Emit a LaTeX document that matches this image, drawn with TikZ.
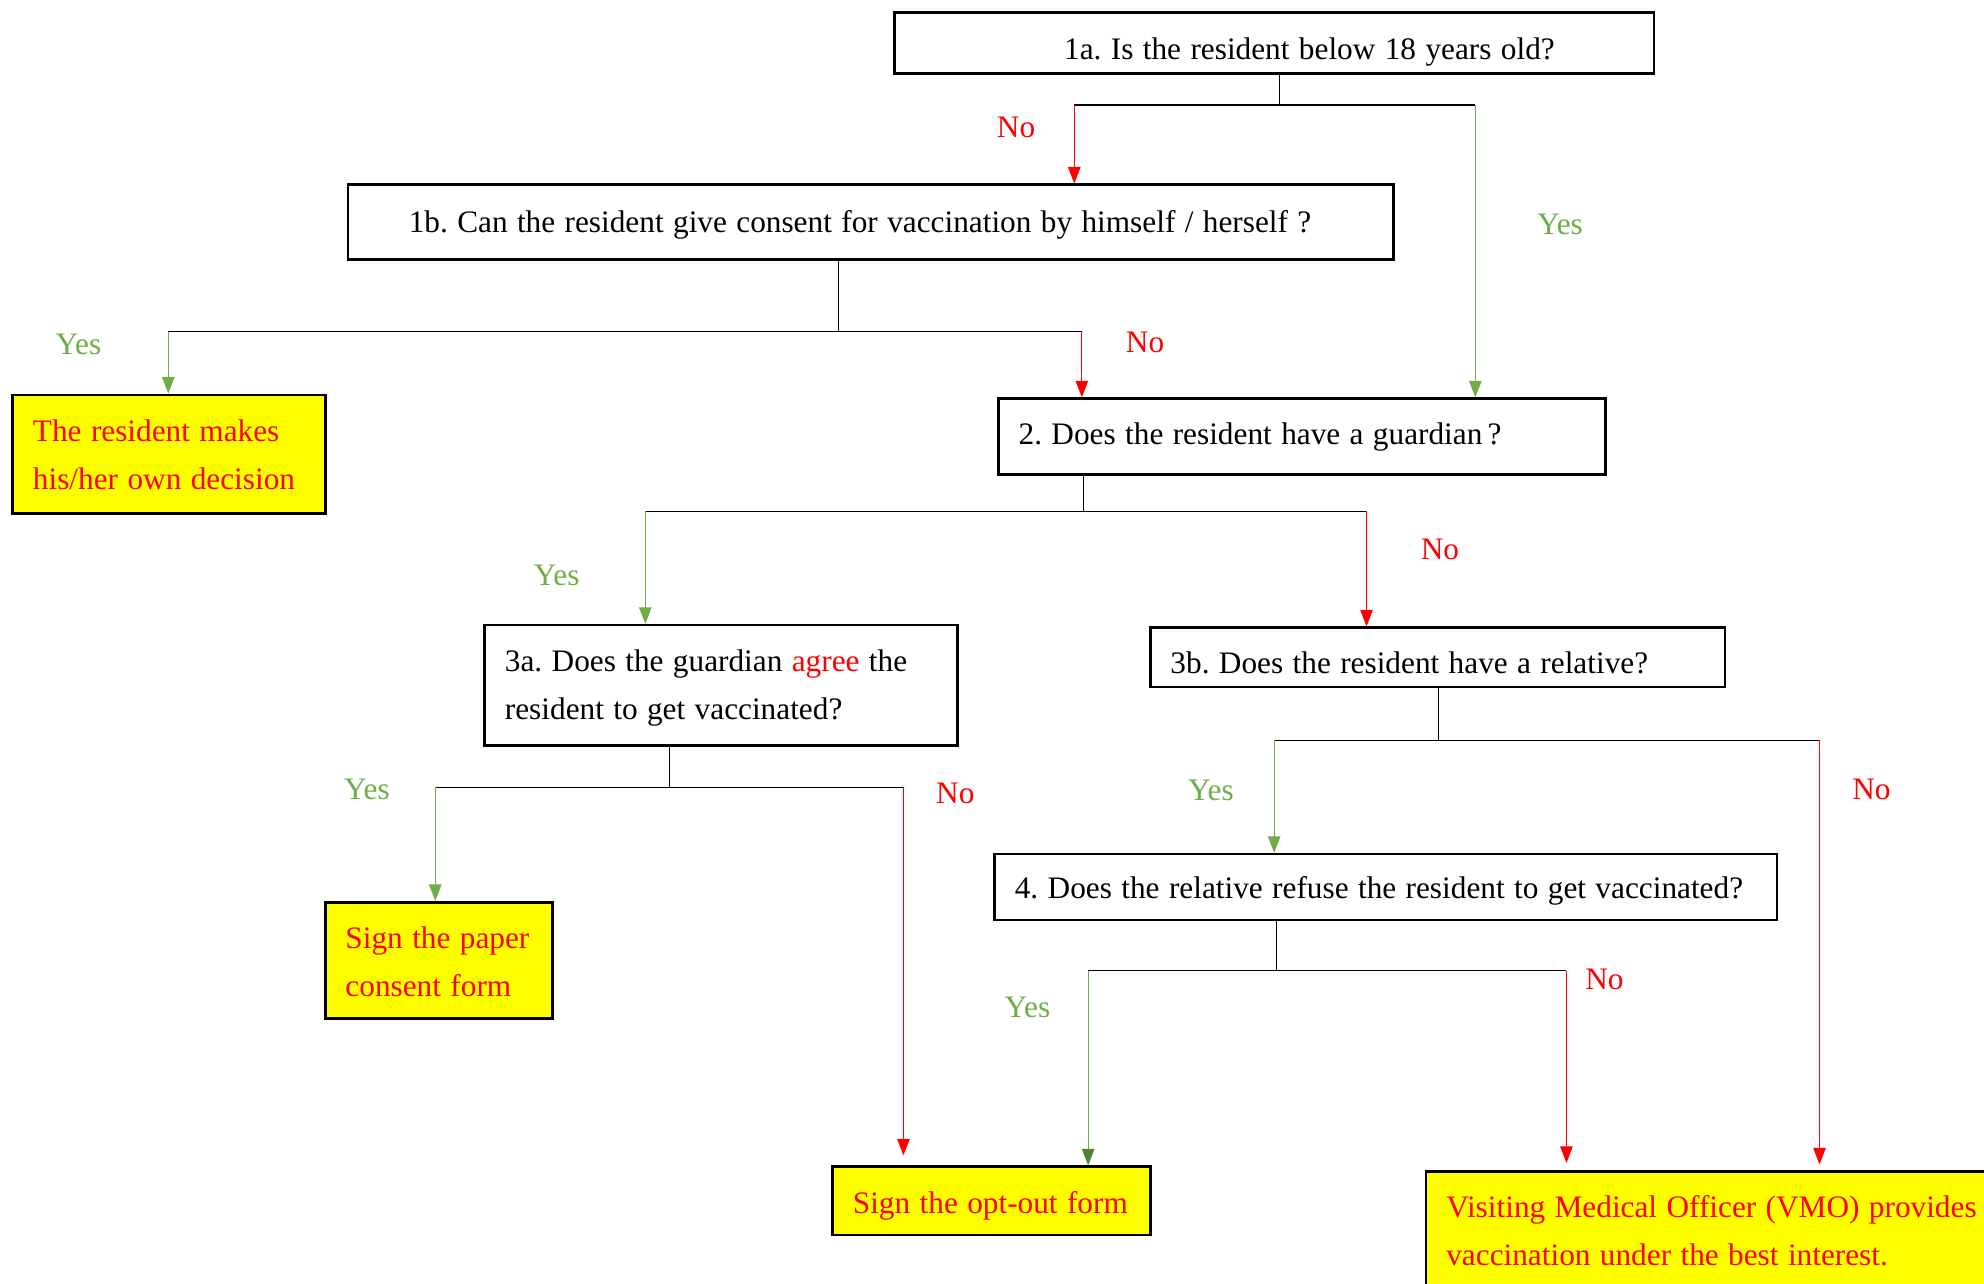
\documentclass[tikz,border=0pt]{standalone}
\usepackage{fontspec}
\setmainfont{Liberation Serif}
\usetikzlibrary{arrows.meta}
\definecolor{yesgreen}{HTML}{70AD47}
\definecolor{yesdark}{HTML}{548235}
\definecolor{endyellow}{HTML}{FFFF00}
% one unbreakable line of box text, baseline set below the box centre
\newcommand{\boxline}[2][0]{\raisebox{-#1cm}[0pt][0pt]{\spaceskip=0.3em\relax #2}}
\tikzset{
  qbox/.style={draw, line width=1.5pt, rectangle, inner xsep=0.405cm, inner ysep=0pt, align=left, anchor=north west},
  endbox/.style={qbox, fill=endyellow, text=red},
  stem/.style={draw=black, line width=0.6pt},
  noarrow/.style={draw=red, line width=0.6pt, -{Triangle[length=0.33cm,width=0.25cm]}},
  yesarrow/.style={draw=yesgreen, line width=0.6pt, -{Triangle[length=0.33cm,width=0.25cm]}},
  nolabel/.style={text=red},
  yeslabel/.style={text=yesgreen}
}

\begin{document}
\frenchspacing
\begin{tikzpicture}[x=0.0253cm, y=-0.0253cm, font=\fontsize{17.8}{27.3}\selectfont]
\useasboundingbox (0,0) rectangle (1568,1014);
% questions
\node[qbox, text width=14.37cm, minimum height=1.214cm] (q1a) at (706,9) {\hspace*{2.985cm}\boxline[0.33]{1a. Is the resident below 18 years old?}};
\node[qbox, text width=20.09cm, minimum height=1.493cm] (q1b) at (274,145) {\hspace*{0.81cm}\boxline[0.2]{1b. Can the resident give consent for vaccination by himself / herself ?}};
\node[qbox, text width=11.33cm, minimum height=1.518cm] (q2) at (788,314) {\boxline[0.15]{2. Does the resident have a guardian\,?}};
\node[qbox, text width=8.65cm, minimum height=2.404cm] (q3a) at (382,493) {\boxline[0.2]{3a. Does the guardian {\color{red}agree} the}\\\boxline[0.2]{resident to get vaccinated?}};
\node[qbox, text width=10.68cm, minimum height=1.189cm] (q3b) at (908,495) {\boxline[0.33]{3b. Does the resident have a relative?}};
\node[qbox, text width=14.83cm, minimum height=1.316cm] (q4) at (785,674) {\boxline[0.23]{4. Does the relative refuse the resident to get vaccinated?}};
% outcomes
\node[endbox, text width=5.44cm, minimum height=2.378cm] (own) at (9,311) {\boxline[0.23]{The resident makes}\\\boxline[0.23]{his/her own decision}};
\node[endbox, text width=3.74cm, minimum height=2.328cm] (paper) at (256,712) {\boxline[0.25]{Sign the paper}\\\boxline[0.25]{consent form}};
\node[endbox, text width=5.54cm, minimum height=1.366cm] (optout) at (657,921) {\boxline[0.25]{Sign the opt-out form}};
\node[endbox, text width=11.33cm, minimum height=2.328cm] (vmo) at (1126,925) {\boxline[0.23]{Visiting Medical Officer (VMO) provides}\\\boxline[0.23]{vaccination under the best interest.}};
% branch points
\coordinate (j1a) at (1011,83);  \coordinate (n1a) at (849,83);   \coordinate (y1a) at (1166,83);
\coordinate (j1b) at (663,262);  \coordinate (y1b) at (133,262);  \coordinate (n1b) at (855,262);
\coordinate (j2) at (856,404);   \coordinate (y2) at (510,404);   \coordinate (n2) at (1080,404);
\coordinate (j3a) at (529,622);  \coordinate (y3a) at (344,622);  \coordinate (n3a) at (714,622);
\coordinate (j3b) at (1137,585); \coordinate (y3b) at (1007,585); \coordinate (n3b) at (1438,585);
\coordinate (j4) at (1009,767);  \coordinate (y4) at (860,767);   \coordinate (n4) at (1238,767);
% stems
\draw[stem] (q1a.south -| j1a) -- (j1a) (n1a) -- (y1a);
\draw[stem] (q1b.south -| j1b) -- (j1b) (y1b) -- (n1b);
\draw[stem] (q2.south -| j2) -- (j2) (y2) -- (n2);
\draw[stem] (q3a.south -| j3a) -- (j3a) (y3a) -- (n3a);
\draw[stem] (q3b.south -| j3b) -- (j3b) (y3b) -- (n3b);
\draw[stem] (q4.south -| j4) -- (j4) (y4) -- (n4);
% arrows
\draw[noarrow] (n1a) -- (n1a |- q1b.north);
\draw[yesarrow] (y1a) -- (y1a |- q2.north);
\draw[yesarrow] (y1b) -- (y1b |- own.north);
\draw[noarrow] (n1b) -- (n1b |- q2.north);
\draw[yesarrow] (y2) -- (y2 |- q3a.north);
\draw[noarrow] (n2) -- (n2 |- q3b.north);
\draw[yesarrow] (y3a) -- (y3a |- paper.north);
\draw[noarrow, shorten >=0.2cm] (n3a) -- (n3a |- optout.north);
\draw[yesarrow] (y3b) -- (y3b |- q4.north);
\draw[noarrow, shorten >=0.12cm] (n3b) -- (n3b |- vmo.north);
\draw[yesarrow, -{Triangle[length=0.33cm,width=0.25cm,color=yesdark]}] (y4) -- (y4 |- optout.north);
\draw[noarrow, shorten >=0.15cm] (n4) -- (n4 |- vmo.north);
% labels
\node[nolabel] (no1a) at (803,101) {No};
\node[yeslabel] (yes1a) at (1233,177) {Yes};
\node[yeslabel] (yes1b) at (62,272) {Yes};
\node[nolabel] (no1b) at (905,271) {No};
\node[yeslabel] (yes2) at (440,455) {Yes};
\node[nolabel] (no2) at (1138,434) {No};
\node[yeslabel] (yes3a) at (290,624) {Yes};
\node[nolabel] (no3a) at (755,627) {No};
\node[yeslabel] (yes3b) at (957,625) {Yes};
\node[nolabel] (no3b) at (1479,624) {No};
\node[yeslabel] (yes4) at (812,796) {Yes};
\node[nolabel] (no4) at (1268,774) {No};
\end{tikzpicture}
\end{document}
